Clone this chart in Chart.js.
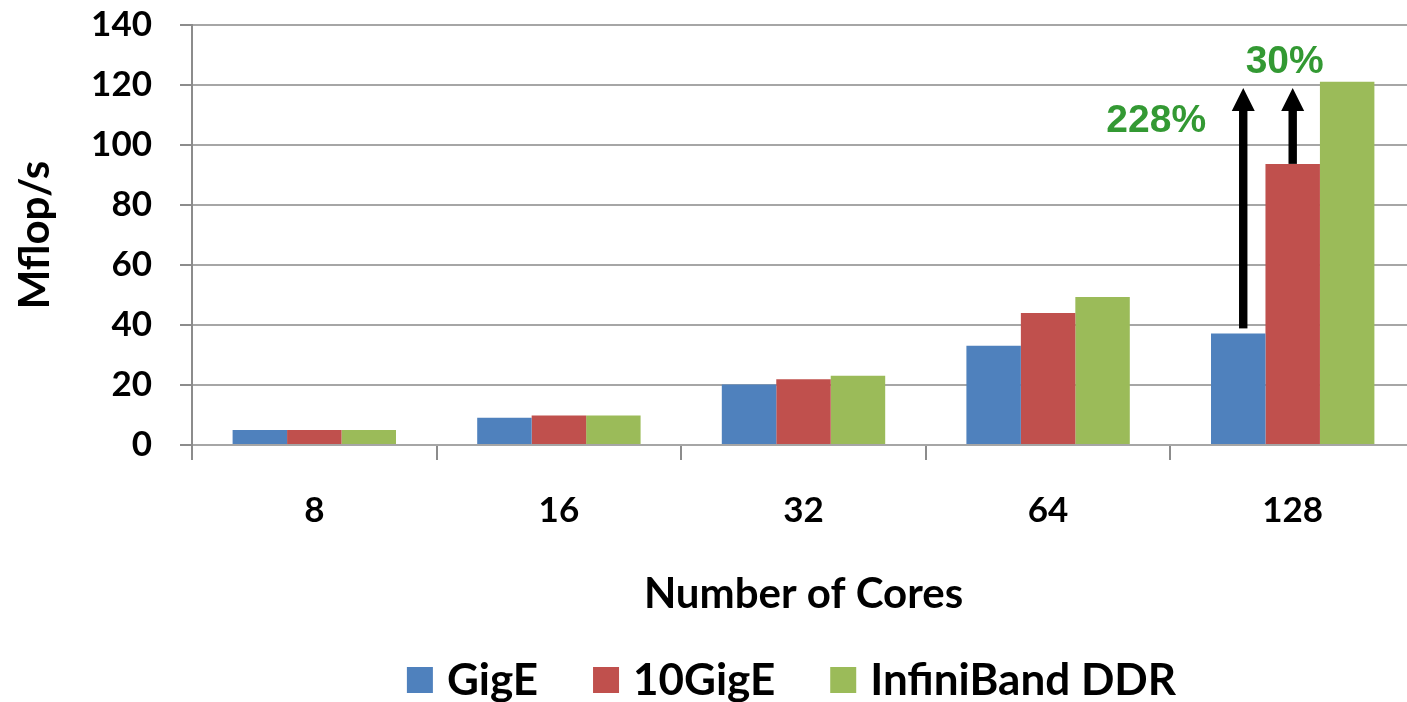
<!DOCTYPE html>
<html>
<head>
<meta charset="utf-8">
<script src="https://cdn.jsdelivr.net/npm/chart.js@4.4.1/dist/chart.umd.min.js"></script>
<style>
  html, body { margin: 0; padding: 0; background: #fff; overflow: hidden; }
  #wrap { width: 1415px; height: 702px; position: relative; }
</style>
</head>
<body>
<div id="wrap"><canvas id="c"></canvas></div>
<script>
const categories = ['8', '16', '32', '64', '128'];
const gigE = [5.0, 9.1, 20.2, 33.1, 37.2];
const tenGigE = [5.0, 9.8, 21.9, 44.0, 93.7];
const infiniBand = [5.0, 9.8, 23.1, 49.3, 121.1];
const seriesNames = ['GigE', '10GigE', 'InfiniBand DDR'];
const seriesColors = ['#4F81BD', '#C0504D', '#9BBB59'];
const yTicks = [0, 20, 40, 60, 80, 100, 120, 140];
const annotationTexts = ['228%', '30%'];
const arrowTipValue = 119;

const FONT = 'Lato, "Open Sans", sans-serif';

const annotationPlugin = {
  id: 'annot',
  afterDatasetsDraw(chart) {
    const ctx = chart.ctx;
    const y = chart.scales.y;
    const last = categories.length - 1;
    const b0 = chart.getDatasetMeta(0).data[last];
    const b1 = chart.getDatasetMeta(1).data[last];
    const tip = y.getPixelForValue(arrowTipValue);
    function arrow(x, bottom) {
      const head = 23, hw = 11.5, sw = 4.2;
      ctx.save();
      ctx.fillStyle = '#000';
      ctx.fillRect(x - sw, tip + head - 1, sw * 2, bottom - (tip + head - 1));
      ctx.beginPath();
      ctx.moveTo(x, tip);
      ctx.lineTo(x + hw, tip + head);
      ctx.lineTo(x - hw, tip + head);
      ctx.closePath();
      ctx.fill();
      ctx.restore();
    }
    const x1 = b0.x + 5, x2 = b1.x;
    arrow(x1, b0.y - 5);
    arrow(x2, b1.y);
    ctx.save();
    ctx.fillStyle = '#339933';
    ctx.font = 'bold 39px "Liberation Sans", Arial, sans-serif';
    ctx.textAlign = 'center';
    ctx.textBaseline = 'alphabetic';
    ctx.fillText(annotationTexts[0], x1 - 87, y.getPixelForValue(104.3));
    ctx.fillText(annotationTexts[1], x2 - 8, y.getPixelForValue(124));
    ctx.restore();
  }
};

const legendPlugin = {
  id: 'customLegend',
  afterDraw(chart) {
    const ctx = chart.ctx;
    const ca = chart.chartArea;
    ctx.save();
    ctx.font = 'bold 44px ' + FONT;
    ctx.textBaseline = 'middle';
    ctx.textAlign = 'left';
    const box = 26, gap = 14, itemGap = 55;
    const widths = seriesNames.map(n => ctx.measureText(n).width);
    let total = 0;
    widths.forEach((w, i) => { total += box + gap + w + (i < widths.length - 1 ? itemGap : 0); });
    let x = (ca.left + ca.right) / 2 - 12 - total / 2;
    const cy = 680;
    seriesNames.forEach((n, i) => {
      ctx.fillStyle = seriesColors[i];
      ctx.fillRect(x, cy - box / 2, box, box);
      ctx.fillStyle = '#000';
      ctx.fillText(n, x + box + gap, cy + 1);
      x += box + gap + widths[i] + itemGap;
    });
    ctx.restore();
  }
};

const datasets = [gigE, tenGigE, infiniBand].map((d, i) => ({
  label: seriesNames[i],
  data: d,
  backgroundColor: seriesColors[i],
  borderWidth: 0,
  categoryPercentage: 0.668,
  barPercentage: 1.0
}));

new Chart(document.getElementById('c'), {
  type: 'bar',
  data: { labels: categories, datasets },
  options: {
    responsive: true,
    maintainAspectRatio: false,
    animation: false,
    layout: { padding: { top: 25, right: 0, bottom: 0, left: 0 } },
    plugins: {
      legend: { display: false },
      tooltip: { enabled: false }
    },
    scales: {
      x: {
        grid: { drawOnChartArea: false, drawTicks: true, tickLength: 15, color: '#8c8c8c', lineWidth: 2 },
        border: { display: true, color: '#a6a6a6', width: 2 },
        ticks: { color: '#000', font: { family: FONT, size: 35, weight: 'bold' }, padding: 30 },
        title: {
          display: true, text: 'Number of Cores', color: '#000',
          font: { family: FONT, size: 42, weight: 'bold' },
          padding: { top: 0, bottom: 82 }
        },
        afterFit(s) { s.height = 257; }
      },
      y: {
        min: 0, max: 140,
        afterBuildTicks(s) { s.ticks = yTicks.map(v => ({ value: v })); },
        grid: {
          color: '#a6a6a6', lineWidth: 2, drawTicks: true, tickLength: 40,
          tickColor: '#8c8c8c', tickBorderDash: [12, 28], tickBorderDashOffset: 12
        },
        border: { display: true, color: '#8c8c8c', width: 2 },
        ticks: { color: '#000', font: { family: FONT, size: 35, weight: 'bold' }, padding: 0 },
        title: {
          display: true, text: 'Mflop/s', color: '#000',
          font: { family: FONT, size: 42, weight: 'bold' },
          padding: { top: 10, bottom: 10 }
        },
        afterFit(s) { s.width = 192; }
      }
    }
  },
  plugins: [annotationPlugin, legendPlugin]
});
</script>
</body>
</html>
